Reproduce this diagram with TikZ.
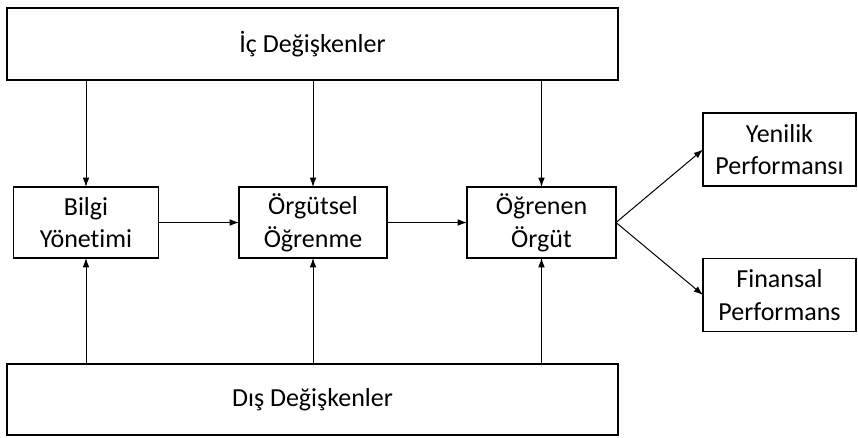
\documentclass[tikz,border=0pt]{standalone}
\usepackage{fontspec}
\setmainfont{Carlito}[Ligatures=NoCommon]
\usepackage{tikz}
\usetikzlibrary{positioning}
\usetikzlibrary{arrows.meta}

\tikzset{
  kutu/.style={draw, line width=1.4pt, inner sep=0pt, outer sep=0pt, align=center,
    font=\fontsize{19.5}{24.5}\selectfont},
  ok/.style={line width=0.75pt, -{Latex[length=7pt,width=5pt]}}
}

\begin{document}
\begin{tikzpicture}[x=0.75pt,y=0.75pt,yscale=-1,xscale=1]
                  \useasboundingbox (0,0) rectangle (858,437);

                  %Shape: Rectangle [id:ic]
                  \node [kutu, minimum width=458.25pt, minimum height=54pt] (ic) at (312.5,44) {İç Değişkenler};
                  %Shape: Rectangle [id:dis]
                  \node [kutu, minimum width=458.25pt, minimum height=53.25pt] (dis) at (312.5,399.5) {Dış Değişkenler};

                  %Shape: Rectangle [id:bilgi]
                  \node [kutu, minimum width=108.75pt, minimum height=53.25pt] (bilgi) at (86,222.5) {Bilgi\\Yönetimi};
                  %Shape: Rectangle [id:orgutsel]
                  \node [kutu, minimum width=111pt, minimum height=53.25pt] (orgutsel) at (313,222.5) {Örgütsel\\Öğrenme};
                  %Shape: Rectangle [id:ogrenen]
                  \node [kutu, minimum width=111.75pt, minimum height=53.25pt] (ogrenen) at (541.5,222.5) {Öğrenen\\Örgüt};

                  %Shape: Rectangle [id:yenilik]
                  \node [kutu, minimum width=114.75pt, minimum height=54.75pt] (yenilik) at (779.5,149.5) {Yenilik\\Performansı};
                  %Shape: Rectangle [id:finansal]
                  \node [kutu, minimum width=114.75pt, minimum height=54.75pt] (finansal) at (779.5,295) {Finansal\\Performans};

                  %Straight Lines [id:ic-oklar]
                  \draw [ok] (bilgi.north |- ic.south) -- (bilgi.north);
                  \draw [ok] (orgutsel.north |- ic.south) -- (orgutsel.north);
                  \draw [ok] (ogrenen.north |- ic.south) -- (ogrenen.north);
                  %Straight Lines [id:dis-oklar]
                  \draw [ok] (bilgi.south |- dis.north) -- (bilgi.south);
                  \draw [ok] (orgutsel.south |- dis.north) -- (orgutsel.south);
                  \draw [ok] (ogrenen.south |- dis.north) -- (ogrenen.south);

                  %Straight Lines [id:yatay]
                  \draw [ok] (bilgi) -- (orgutsel);
                  \draw [ok] (orgutsel) -- (ogrenen);
                  %Straight Lines [id:capraz]
                  \draw [ok] (ogrenen.east) -- (yenilik.west);
                  \draw [ok] (ogrenen.east) -- (finansal.west);

              \end{tikzpicture}
\end{document}
